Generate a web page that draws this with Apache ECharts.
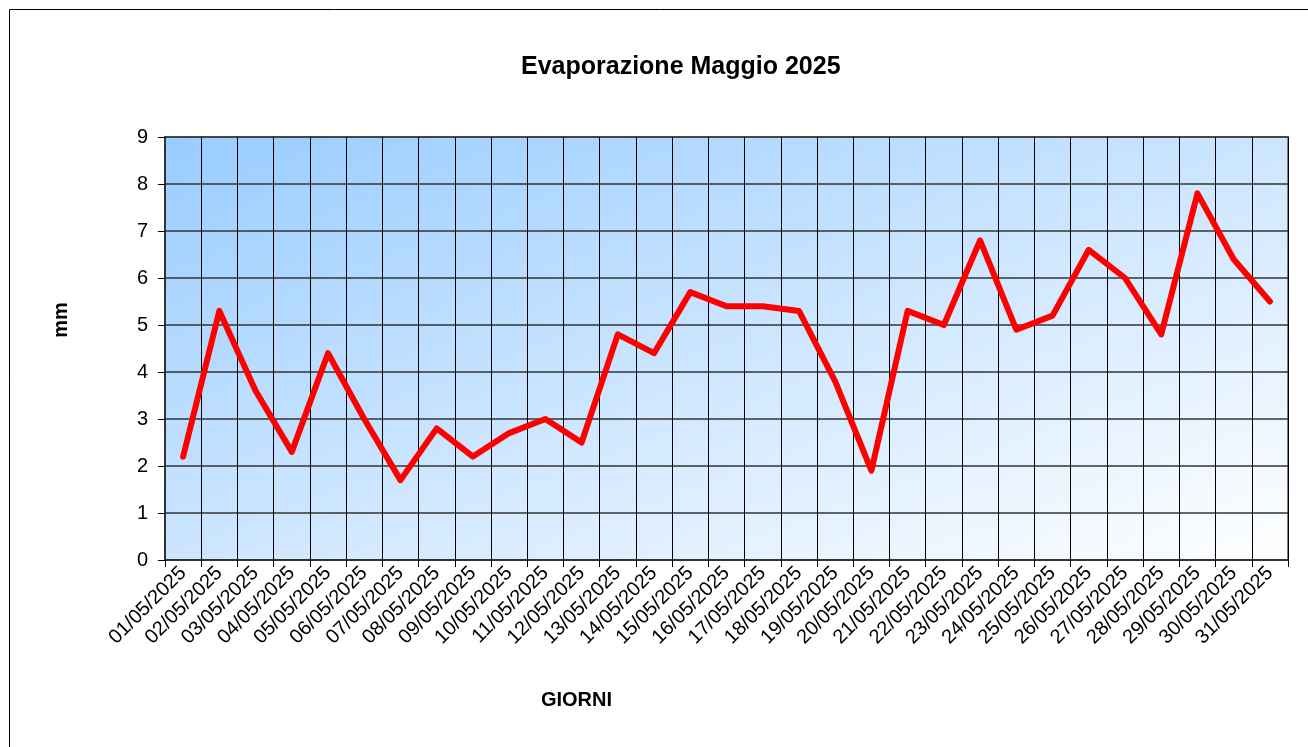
<!DOCTYPE html>
<html>
<head>
<meta charset="utf-8">
<script src="https://cdn.jsdelivr.net/npm/echarts@6/dist/echarts.min.js"></script>
<style>
  html, body { margin: 0; padding: 0; background: #fff; }
  #chart { width: 1308px; height: 747px; }
</style>
</head>
<body>
<div id="chart"></div>
<script>
// giorni di maggio
const giorni = [
  '01/05/2025', '02/05/2025', '03/05/2025', '04/05/2025', '05/05/2025', '06/05/2025',
  '07/05/2025', '08/05/2025', '09/05/2025', '10/05/2025', '11/05/2025', '12/05/2025',
  '13/05/2025', '14/05/2025', '15/05/2025', '16/05/2025', '17/05/2025', '18/05/2025',
  '19/05/2025', '20/05/2025', '21/05/2025', '22/05/2025', '23/05/2025', '24/05/2025',
  '25/05/2025', '26/05/2025', '27/05/2025', '28/05/2025', '29/05/2025', '30/05/2025',
  '31/05/2025'
]
// evaporazione (mm)
const evaporazione = [
  2.2, 5.3, 3.6, 2.3, 4.4, 3.0, 1.7, 2.8, 2.2, 2.7, 3.0, 2.5,
  4.8, 4.4, 5.7, 5.4, 5.4, 5.3, 3.8, 1.9, 5.3, 5.0, 6.8, 4.9,
  5.2, 6.6, 6.0, 4.8, 7.8, 6.4, 5.5
]
const yMin = 0
const yMax = 9
const yStep = 1

const chart = echarts.init(document.getElementById('chart'))

// sfondo area grafico: sfumatura diagonale (angoli alto-dx e basso-sx uguali)
const sfondo = new echarts.graphic.LinearGradient(165, 137, 444, 878, [
  { offset: 0, color: '#99ccff' },
  { offset: 1, color: '#ffffff' }
], true)

const option = {
  animation: false,
  backgroundColor: '#ffffff',
  graphic: [
    {
      type: 'rect',
      shape: { x: 9.5, y: 9.5, width: 1310, height: 760 },
      style: { fill: 'none', stroke: '#000', lineWidth: 1 },
      silent: true
    }
  ],
  title: {
    text: 'Evaporazione Maggio 2025',
    left: 516,
    top: 50,
    textStyle: { fontFamily: 'Arial', fontSize: 25, fontWeight: 'bold', color: '#000' }
  },
  grid: {
    left: 165,
    right: 20,
    top: 137,
    bottom: 187,
    show: true,
    borderColor: '#808080',
    borderWidth: 2,
    backgroundColor: sfondo
  },
  xAxis: {
    type: 'category',
    data: giorni,
    boundaryGap: true,
    name: 'GIORNI',
    nameLocation: 'middle',
    nameGap: 130,
    nameTextStyle: { fontFamily: 'Arial', fontSize: 20, fontWeight: 'bold', color: '#000', padding: [0, 300, 0, 0] },
    axisLine: { lineStyle: { color: '#333', width: 2 } },
    axisTick: { show: true, interval: 0, length: 7, lineStyle: { color: '#000' } },
    axisLabel: {
      interval: 0,
      rotate: 45,
      margin: 10,
      fontFamily: 'Arial',
      fontSize: 20,
      color: '#000'
    },
    splitLine: { show: true, interval: 0, lineStyle: { color: '#000', width: 1 } }
  },
  yAxis: {
    type: 'value',
    min: yMin,
    max: yMax,
    interval: yStep,
    name: 'mm',
    nameLocation: 'middle',
    nameGap: 94,
    nameRotate: 90,
    nameTextStyle: { fontFamily: 'Arial', fontSize: 20, fontWeight: 'bold', color: '#000', padding: [0, 0, 0, 57] },
    axisLine: { show: true, lineStyle: { color: '#333', width: 2 } },
    axisTick: { show: true, length: 7, lineStyle: { color: '#000' } },
    axisLabel: { margin: 17, fontFamily: 'Arial', fontSize: 20, color: '#000' },
    splitLine: { show: true, lineStyle: { color: '#333', width: 1.5 } }
  },
  series: [
    {
      name: 'Evaporazione',
      type: 'line',
      data: evaporazione,
      showSymbol: false,
      symbol: 'none',
      lineStyle: { color: '#ff0000', width: 6, join: 'round', cap: 'round' },
      itemStyle: { color: '#ff0000' }
    }
  ]
}

chart.setOption(option)
</script>
</body>
</html>
